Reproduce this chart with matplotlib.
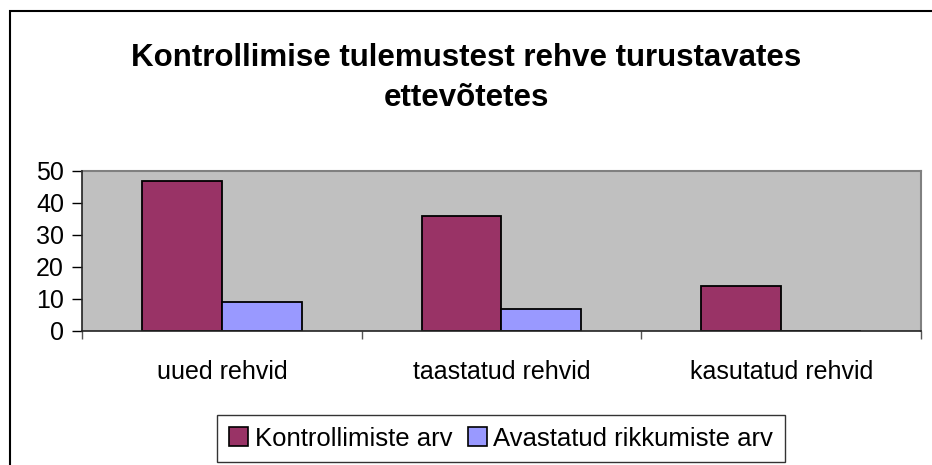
import matplotlib
matplotlib.use('Agg')
from matplotlib import pyplot as plt
from matplotlib.patches import Rectangle, Patch

plt.rcParams['font.family'] = ['Liberation Sans', 'DejaVu Sans']

categories = ['uued rehvid', 'taastatud rehvid', 'kasutatud rehvid']
kontrollimiste_arv = [47, 36, 14]
rikkumiste_arv = [9, 7, 0]
series_names = ['Kontrollimiste arv', 'Avastatud rikkumiste arv']
y_ticks = [0, 10, 20, 30, 40, 50]

red = '#993366'
blue = '#9999FF'

W, H = 932, 465
fig = plt.figure(figsize=(W / 100, H / 100), dpi=100)

# outer chart border (right and bottom edges fall outside the image)
fig.patches.append(Rectangle((9.5 / W, -0.1), 2, 1 - 11.5 / H + 0.1,
                             transform=fig.transFigure, fill=False,
                             edgecolor='black', linewidth=1.5))

ax = fig.add_axes([82 / W, 1 - 331 / H, (921 - 82) / W, (331 - 171) / H])
ax.set_facecolor('#C0C0C0')

x = list(range(len(categories)))
bw = 0.286
ax.bar([i - bw / 2 for i in x], kontrollimiste_arv, bw, color=red,
       edgecolor='black', linewidth=1.3, zorder=3)
ax.bar([i + bw / 2 for i in x], rikkumiste_arv, bw, color=blue,
       edgecolor='black', linewidth=1.3, zorder=3)

ax.set_xlim(-0.5, len(categories) - 0.5)
ax.set_ylim(0, 50)
ax.set_yticks(y_ticks)
ax.set_xticks(x)
ax.set_xticklabels(categories)
ax.set_xticks([i - 0.5 for i in range(len(categories) + 1)], minor=True)
ax.tick_params(axis='x', which='major', length=0, pad=21, labelsize=18)
ax.tick_params(axis='x', which='minor', length=6, width=1, direction='out',
               color='#555555')
ax.tick_params(axis='y', length=7, width=1, pad=6, labelsize=18)

for s in ['top', 'right']:
    ax.spines[s].set_color('#808080')
    ax.spines[s].set_linewidth(1.5)
for s in ['left', 'bottom']:
    ax.spines[s].set_color('#222222')
    ax.spines[s].set_linewidth(1.2)
    ax.spines[s].set_zorder(4)

fig.text(0.5, 1 - 78 / H,
         'Kontrollimise tulemustest rehve turustavates\nettevõtetes',
         ha='center', va='center', fontsize=22.5, fontweight='bold',
         linespacing=1.42)

handles = [Patch(facecolor=red, edgecolor='black', linewidth=1.2),
           Patch(facecolor=blue, edgecolor='black', linewidth=1.2)]
leg = fig.legend(handles, series_names, loc='center',
                 bbox_to_anchor=(501 / W, 1 - 438.5 / H), ncol=2,
                 fontsize=18.5, frameon=True, fancybox=False,
                 handlelength=0.75, handleheight=0.75, handletextpad=0.25,
                 columnspacing=0.6, borderpad=0.45, borderaxespad=0)
leg.get_frame().set_edgecolor('black')
leg.get_frame().set_linewidth(1.0)

fig.savefig('out.png', dpi=100)
